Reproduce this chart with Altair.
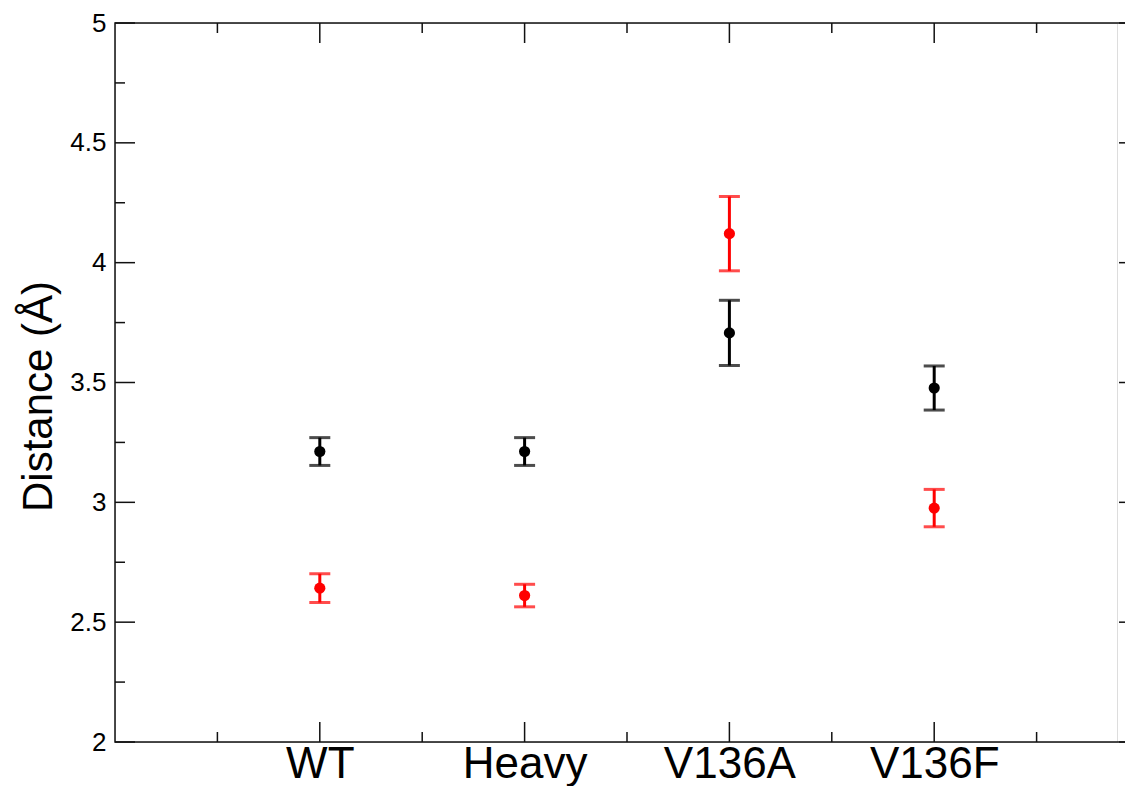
import altair as alt
import pandas as pd

categories = ["WT", "Heavy", "V136A", "V136F"]
positions = [1, 2, 3, 4]
black_mean = [3.212, 3.212, 3.707, 3.477]
black_err = [0.058, 0.058, 0.136, 0.092]
red_mean = [2.642, 2.611, 4.121, 2.976]
red_err = [0.060, 0.047, 0.155, 0.078]

y_major = [2, 2.5, 3, 3.5, 4, 4.5, 5]
y_minor = [2.25, 2.75, 3.25, 3.75, 4.25, 4.75]
x_major = [1, 2, 3, 4]
x_minor = [0.5, 1.5, 2.5, 3.5, 4.5]

W, H = 1002, 719     # visible view
XR = 1024            # full plot-frame width (extends past the page edge, as in the original)

rows = []
for i, c in enumerate(categories):
    rows.append({"cat": c, "pos": positions[i], "series": "black", "mean": black_mean[i],
                 "lo": black_mean[i] - black_err[i], "hi": black_mean[i] + black_err[i]})
    rows.append({"cat": c, "pos": positions[i], "series": "red", "mean": red_mean[i],
                 "lo": red_mean[i] - red_err[i], "hi": red_mean[i] + red_err[i]})
df = pd.DataFrame(rows)

xscale = alt.Scale(domain=[0, 5], range=[0, XR], nice=False, zero=False, padding=0)
yscale = alt.Scale(domain=[2, 5], nice=False, zero=False, padding=0)
color = alt.Color("series:N", scale=alt.Scale(domain=["black", "red"], range=["#000000", "#ff0000"]), legend=None)

label_expr = "[''," + ",".join("'%s'" % c for c in categories) + "][datum.value]"

xaxis = alt.Axis(values=x_major, labelExpr=label_expr, ticks=False, domain=False, grid=False,
                 labelFont="Liberation Sans", labelFontSize=44, labelColor="#000",
                 labelPadding=0, title=None, labelBaseline="top")
yaxis = alt.Axis(values=y_major, format="~g", ticks=False, domain=False, grid=False,
                 labelFont="Liberation Sans", labelFontSize=26, labelColor="#000",
                 labelPadding=9, title="Distance (Å)", titleFont="Liberation Sans",
                 titleFontSize=42, titleFontWeight="normal", titleColor="#000",
                 titleAngle=270, titleX=-64, titleY=373, titleAlign="center",
                 titleBaseline="alphabetic")

base = alt.Chart(df)

bars = base.mark_rule(strokeWidth=3).encode(
    x=alt.X("pos:Q", scale=xscale, axis=xaxis),
    y=alt.Y("lo:Q", scale=yscale, axis=yaxis),
    y2="hi:Q",
    color=color,
)
cap_lo = base.mark_tick(orient="horizontal", size=21, thickness=3).encode(
    x=alt.X("pos:Q", scale=xscale), y=alt.Y("lo:Q", scale=yscale), color=color)
cap_hi = base.mark_tick(orient="horizontal", size=21, thickness=3).encode(
    x=alt.X("pos:Q", scale=xscale), y=alt.Y("hi:Q", scale=yscale), color=color)
pts = base.mark_circle(size=125, opacity=1).encode(
    x=alt.X("pos:Q", scale=xscale), y=alt.Y("mean:Q", scale=yscale), color=color)

tick_color = "#111111"
def yticks(vals, length):
    d = pd.DataFrame({"v": vals})
    left = alt.Chart(d).mark_rule(color=tick_color, strokeWidth=1.5).encode(
        y=alt.Y("v:Q", scale=yscale), x=alt.value(0), x2=alt.value(length))
    right = alt.Chart(d).mark_rule(color=tick_color, strokeWidth=1.5).encode(
        y=alt.Y("v:Q", scale=yscale), x=alt.value(XR - length), x2=alt.value(XR))
    return [left, right]

def xticks(vals, length):
    d = pd.DataFrame({"v": vals})
    bottom = alt.Chart(d).mark_rule(color=tick_color, strokeWidth=1.5).encode(
        x=alt.X("v:Q", scale=xscale), y=alt.value(H), y2=alt.value(H - length))
    top = alt.Chart(d).mark_rule(color=tick_color, strokeWidth=1.5).encode(
        x=alt.X("v:Q", scale=xscale), y=alt.value(0), y2=alt.value(length))
    return [bottom, top]

frame = alt.Chart(pd.DataFrame({"v": [0]})).mark_rect(
    fill=None, fillOpacity=0, stroke=tick_color, strokeWidth=1.5
).encode(x=alt.value(0), x2=alt.value(XR), y=alt.value(0), y2=alt.value(H))

layers = [frame, bars, cap_lo, cap_hi, pts] + yticks(y_major, 20) + yticks(y_minor, 10) \
    + xticks(x_major, 20) + xticks(x_minor, 10)

chart = alt.layer(*layers).properties(
    width=W, height=H,
    padding={"left": 107, "top": 15, "right": 8, "bottom": 44},
    autosize=alt.AutoSizeParams(type="none"),
).configure_view(strokeWidth=0, stroke="transparent").configure(background="white")

chart.save("out.html", embed_options={"renderer": "svg", "actions": False})
